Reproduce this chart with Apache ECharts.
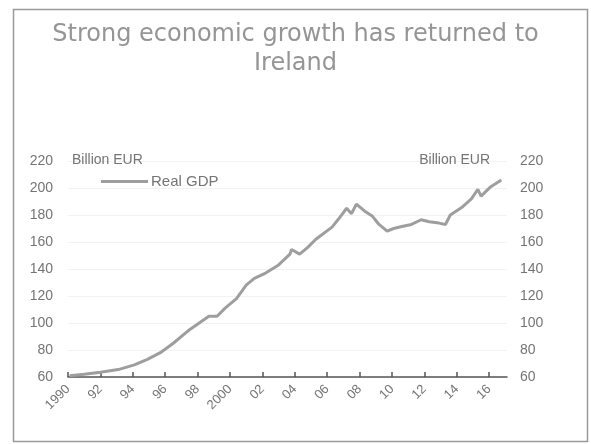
<!DOCTYPE html>
<html>
<head>
<meta charset="utf-8">
<script src="https://cdn.jsdelivr.net/npm/echarts@6/dist/echarts.min.js"></script>
<style>html,body{margin:0;padding:0;background:#fff}#c{width:591px;height:444px}</style>
</head>
<body>
<div id="c"></div>
<script>
const titleText = "Strong economic growth has returned to\nIreland";
const seriesName = "Real GDP";
const unitLabel = "Billion EUR";
const years = [1990.1, 1991.0, 1992.0, 1993.1, 1994.1, 1994.9, 1995.7, 1996.5, 1997.3, 1997.5,
  1998.1, 1998.7, 1999.2, 1999.7, 2000.4, 2001.0, 2001.5, 2002.2, 2003.0, 2003.7,
  2003.8, 2004.3, 2004.8, 2005.3, 2006.3, 2006.7, 2007.2, 2007.5, 2007.8, 2008.3,
  2008.8, 2009.2, 2009.7, 2010.1, 2010.6, 2011.2, 2011.8, 2012.3, 2012.9, 2013.3,
  2013.6, 2014.3, 2014.9, 2015.3, 2015.5, 2016.1, 2016.75];
const gdp = [61, 62, 63.5, 65.5, 69, 73, 78, 85, 93, 95,
  100, 105, 105, 111, 118, 128, 133, 137, 143, 151,
  154.5, 151, 156, 162, 171, 177, 185, 181, 188, 183,
  179, 173, 168, 170, 171.5, 173, 176.5, 175, 174, 173,
  180, 185.5, 192, 199, 194, 201, 206];
const xTicks = [1990, 1992, 1994, 1996, 1998, 2000, 2002, 2004, 2006, 2008, 2010, 2012, 2014, 2016];
const xTickLabels = ["1990", "92", "94", "96", "98", "2000", "02", "04", "06", "08", "10", "12", "14", "16"];

const data = years.map((y, i) => [y, gdp[i]]);
const font = "'Liberation Sans', Arial, sans-serif";
const txt = "#747474";

const chart = echarts.init(document.getElementById('c'), null, {renderer: 'canvas'});
const yAxisCommon = {
  type: 'value', min: 60, max: 220, interval: 20,
  axisLine: {show: false}, axisTick: {show: false},
  splitLine: {show: true, lineStyle: {color: '#f2f2f2', width: 1}},
  axisLabel: {color: txt, fontFamily: font, fontSize: 14},
  nameLocation: 'end', nameGap: 1,
  nameTextStyle: {color: txt, fontFamily: font, fontSize: 14, verticalAlign: 'middle'}
};
chart.setOption({
  animation: false,
  backgroundColor: '#fff',
  title: {
    text: titleText, left: 'center', top: 20, padding: 0,
    textStyle: {fontFamily: "'DejaVu Sans', sans-serif", fontSize: 24, fontWeight: 'normal', color: '#959595', lineHeight: 29}
  },
  legend: {
    data: [seriesName], left: 101, top: 174, padding: 0,
    icon: 'rect', itemWidth: 47, itemHeight: 3, itemGap: 4,
    textStyle: {color: txt, fontFamily: font, fontSize: 15, padding: [0, 0, 0, -2]}
  },
  graphic: [{
    type: 'rect', shape: {x: 13.5, y: 9.5, width: 574, height: 432},
    style: {fill: 'none', stroke: '#9a9a9a', lineWidth: 1.5}, silent: true, z: -1
  }],
  grid: {left: 68, right: 84, top: 161, bottom: 67},
  xAxis: {
    type: 'value', min: 1990, max: 2017.1,
    axisLine: {show: true, lineStyle: {color: '#555', width: 1.5}},
    axisTick: {show: true, inside: true, length: 5, customValues: xTicks, lineStyle: {color: '#555', width: 1.5}},
    splitLine: {show: false},
    axisLabel: {
      customValues: xTicks, rotate: 45, margin: 10, color: txt, fontFamily: font, fontSize: 13,
      formatter: v => { const i = xTicks.indexOf(Math.round(v)); return i >= 0 ? xTickLabels[i] : ''; }
    }
  },
  yAxis: [
    Object.assign({}, yAxisCommon, {position: 'left', name: unitLabel,
      nameTextStyle: Object.assign({}, yAxisCommon.nameTextStyle, {align: 'left', padding: [0, 0, 0, 4]}),
      axisLabel: Object.assign({}, yAxisCommon.axisLabel, {margin: 15})}),
    Object.assign({}, yAxisCommon, {position: 'right', name: unitLabel,
      splitLine: {show: false},
      nameTextStyle: Object.assign({}, yAxisCommon.nameTextStyle, {align: 'right', padding: [0, 17, 0, 0]}),
      axisLabel: Object.assign({}, yAxisCommon.axisLabel, {margin: 13})})
  ],
  series: [{
    name: seriesName, type: 'line', data: data, showSymbol: false, symbol: 'none',
    lineStyle: {color: '#9e9e9e', width: 3}, itemStyle: {color: '#9e9e9e'}
  }]
});
</script>
</body>
</html>
